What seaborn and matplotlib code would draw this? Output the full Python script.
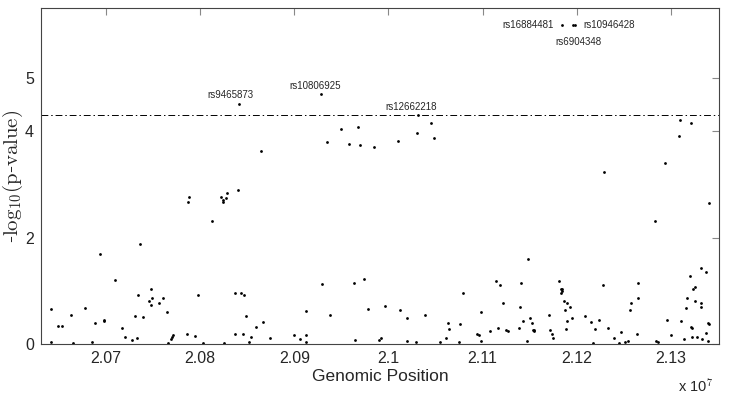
import matplotlib
matplotlib.use("Agg")
import matplotlib.pyplot as plt
import seaborn as sns
import numpy as np
import pandas as pd

# genomic position (units of 1e7 bp) and -log10(p)
pos = [
    2.07878, 2.07874, 2.07358, 2.06933, 2.07099, 2.07481, 2.07343, 2.07485, 2.07608, 2.07453,
    2.07475, 2.07566, 2.07980, 2.06413, 2.06780, 2.06628, 2.07648, 2.07308, 2.07390, 2.06494,
    2.06533, 2.06886, 2.06976, 2.06976, 2.07170, 2.07199, 2.07276, 2.07332, 2.06416, 2.06646,
    2.06855, 2.07658, 2.07687, 2.07697, 2.07714, 2.07863, 2.07948, 2.08030,
    2.08398, 2.08285, 2.08218, 2.08271, 2.08245, 2.08239, 2.08122, 2.08366, 2.08430, 2.08462,
    2.08483, 2.08670, 2.08592, 2.08366, 2.08454, 2.08542, 2.08518, 2.08741, 2.08253,
    2.08999, 2.09056, 2.09120, 2.09126, 2.09120, 2.09296, 2.09378, 2.09633, 2.09736, 2.09781,
    2.09647,
    2.11483, 2.09962, 2.10121, 2.10192, 2.10383, 2.10793, 2.11137, 2.11183, 2.11409, 2.11211,
    2.11395, 2.10978, 2.10631, 2.10638, 2.10761, 2.10606, 2.10938, 2.10963, 2.11076, 2.11165,
    2.11246, 2.11271, 2.11384, 2.11424, 2.09898, 2.09923, 2.10192, 2.10291, 2.10542, 2.10747,
    2.10984, 2.11466,
    2.13409, 2.12835, 2.11816, 2.11833, 2.11848, 2.11830, 2.11848, 2.11865, 2.11901, 2.11926,
    2.11876, 2.11944, 2.11894, 2.11880, 2.11706, 2.11501, 2.11522, 2.11536, 2.11550, 2.11543,
    2.11713, 2.11738, 2.11748, 2.12273, 2.12082, 2.12156, 2.12237, 2.12194, 2.12329, 2.12167,
    2.12393, 2.12467, 2.12446, 2.12513, 2.12545, 2.12637, 2.12655, 2.12655, 2.12573, 2.12570,
    2.12963, 2.13005, 2.12846, 2.12867, 2.13104, 2.13136, 2.13203, 2.13165, 2.13157, 2.13239,
    2.13256, 2.13253, 2.13316, 2.13373, 2.13324, 2.13324, 2.13210, 2.13224, 2.13218, 2.13281,
    2.13334, 2.13377, 2.13398, 2.13401, 2.13394,
    2.08412, 2.09282, 2.10309, 2.08642, 2.09346, 2.09498, 2.09576, 2.09672, 2.09696, 2.09848,
    2.10097, 2.10305, 2.10450, 2.10485, 2.13101, 2.13213, 2.13086, 2.12937, 2.12294,
    2.11841, 2.11961, 2.11986,
]
logp = [
    2.77, 2.68, 1.89, 1.70, 1.21, 1.04, 0.92, 0.87, 0.87, 0.81,
    0.74, 0.78, 0.92, 0.65, 0.68, 0.55, 0.60, 0.53, 0.51, 0.34,
    0.33, 0.39, 0.46, 0.43, 0.31, 0.14, 0.08, 0.11, 0.03, 0.01,
    0.03, 0.01, 0.09, 0.14, 0.17, 0.19, 0.15, 0.02,
    2.90, 2.84, 2.77, 2.74, 2.71, 2.67, 2.31, 0.95, 0.95, 0.92,
    0.53, 0.41, 0.32, 0.19, 0.19, 0.14, 0.04, 0.11, 0.01,
    0.16, 0.09, 0.16, 0.04, 0.62, 1.12, 0.55, 1.14, 1.22, 0.66,
    0.08,
    1.60, 0.71, 0.64, 0.48, 0.54, 0.95, 1.18, 1.11, 1.15, 0.78,
    0.70, 0.60, 0.39, 0.29, 0.38, 0.12, 0.18, 0.17, 0.24, 0.30,
    0.26, 0.25, 0.31, 0.43, 0.08, 0.11, 0.05, 0.04, 0.03, 0.03,
    0.06, 0.06,
    2.65, 2.31, 1.18, 1.03, 1.03, 0.96, 0.99, 0.81, 0.78, 0.69,
    0.64, 0.49, 0.43, 0.29, 0.55, 0.48, 0.40, 0.27, 0.25, 0.26,
    0.26, 0.18, 0.11, 1.11, 0.52, 0.42, 0.46, 0.28, 0.31, 0.02,
    0.12, 0.23, 0.02, 0.03, 0.06, 0.18, 1.14, 0.87, 0.78, 0.64,
    0.45, 0.16, 0.06, 0.03, 0.43, 0.09, 1.28, 0.86, 0.68, 1.04,
    1.08, 0.81, 1.43, 1.36, 0.78, 0.70, 0.32, 0.31, 0.13, 0.13,
    0.10, 0.21, 0.40, 0.38, 0.05,
    4.52, 4.70, 4.31, 3.63, 3.80, 4.04, 3.77, 4.09, 3.74, 3.70,
    3.82, 3.96, 4.16, 3.88, 4.22, 4.15, 3.92, 3.41, 3.24,
    6.00, 6.00, 6.00,
]

snp_names = ["rs9465873", "rs10806925", "rs12662218", "rs16884481", "rs6904348", "rs10946428"]
snp_pos = [2.08412, 2.09282, 2.10309, 2.11841, 2.11961, 2.11986]
snp_logp = [4.52, 4.70, 4.31, 6.00, 6.00, 6.00]

threshold = 4.3
xticks = [2.07, 2.08, 2.09, 2.10, 2.11, 2.12, 2.13]
xticklabels = ["2.07", "2.08", "2.09", "2.1", "2.11", "2.12", "2.13"]
yticks = [0, 2, 4, 5]

df = pd.DataFrame({"pos": np.array(pos) * 1e7, "logp": logp})

sns.set_style("white")
plt.rcParams["font.family"] = ["Liberation Sans", "DejaVu Sans"]
plt.rcParams["mathtext.fontset"] = "cm"

fig = plt.figure(figsize=(7.29, 4.0), dpi=100)
ax = fig.add_axes([41 / 729, 1 - 344 / 400, 678 / 729, 336 / 400])

sns.scatterplot(data=df, x="pos", y="logp", ax=ax, color="black",
                s=4, marker="o", linewidth=0, legend=False)

ax.axhline(threshold, color="black", linestyle=(0, (7, 3, 1.5, 3)), linewidth=0.7)

# labels of the top SNPs
offsets = [(-6, 6, "center", "center"), (-4, 6, "center", "center"), (-5, 6, "center", "center"),
           (-6, 0, "right", "center"), (4, -12, "center", "center"), (6, 0, "left", "center")]
for name, x, y, (dx, dy, ha, va) in zip(snp_names, snp_pos, snp_logp, offsets):
    ax.annotate(name, (x * 1e7, y), xytext=(dx, dy), textcoords="offset points",
                ha=ha, va=va, fontsize=7)

ax.set_xlim(2.0631e7, 2.1351e7)
ax.set_ylim(0, 6.32)
ax.set_xticks([t * 1e7 for t in xticks])
ax.set_xticklabels(xticklabels)
ax.set_yticks(yticks)
ax.tick_params(axis="both", direction="in", length=5, width=0.8, color="#888888",
               labelsize=11.5, top=True, right=True, pad=5)

for sp in ax.spines.values():
    sp.set_color("#444444")
    sp.set_linewidth(0.8)

ax.set_xlabel("Genomic Position", fontsize=12.5, labelpad=2)
ax.set_ylabel(r"-$\mathrm{log_{10}(p}$-$\mathrm{value)}$", fontsize=15,
              family=["DejaVu Serif"], labelpad=0)

fig.text(713 / 729, 1 - 386 / 400, r"x 10$^7$", ha="right", va="center", fontsize=10.5)

fig.savefig("out.png", dpi=100)
